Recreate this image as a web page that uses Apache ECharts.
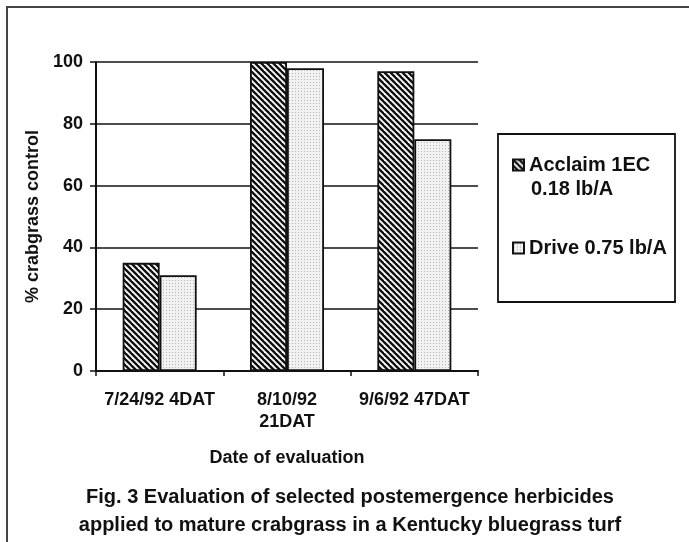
<!DOCTYPE html>
<html>
<head>
<meta charset="utf-8">
<title>Fig. 3 crabgrass control</title>
<script src="https://cdn.jsdelivr.net/npm/echarts@6/dist/echarts.min.js"></script>
<style>
  html, body { margin: 0; padding: 0; background: #fff; }
  #chart { width: 689px; height: 542px; }
</style>
</head>
<body>
<div id="chart"></div>
<script>
// data
const dates = ['7/24/92 4DAT', '8/10/92\n21DAT', '9/6/92 47DAT'];
const acclaim = [35, 100, 97];
const drive = [31, 98, 75];
const seriesNames = ['Acclaim 1EC', 'Drive 0.75 lb/A'];
const yTicks = [0, 20, 40, 60, 80, 100];

const FONT = '"Liberation Sans", Arial, sans-serif';
const INK = '#111';

// diagonal hatch for Acclaim
function hatchPattern() {
  const c = document.createElement('canvas');
  c.width = 6; c.height = 6;
  const ctx = c.getContext('2d');
  ctx.fillStyle = '#fff';
  ctx.fillRect(0, 0, 6, 6);
  ctx.strokeStyle = '#111';
  ctx.lineWidth = 2.4;
  [-6, 0, 6].forEach(function (o) {
    ctx.beginPath();
    ctx.moveTo(o - 1, -1);
    ctx.lineTo(o + 7, 7);
    ctx.stroke();
  });
  return c;
}

// light stipple for Drive
function dotPattern() {
  const c = document.createElement('canvas');
  c.width = 3; c.height = 3;
  const ctx = c.getContext('2d');
  ctx.fillStyle = '#f2f2f2';
  ctx.fillRect(0, 0, 3, 3);
  ctx.fillStyle = '#b4b4b4';
  ctx.fillRect(1, 1, 1, 1);
  return c;
}

const hatch = { image: hatchPattern(), repeat: 'repeat' };
const dots = { image: dotPattern(), repeat: 'repeat' };

const chart = echarts.init(document.getElementById('chart'), null, { renderer: 'canvas' });

const option = {
  backgroundColor: '#fff',
  animation: false,
  textStyle: { fontFamily: FONT },
  title: {
    text: 'Fig. 3 Evaluation of selected postemergence herbicides\napplied to mature crabgrass in a Kentucky bluegrass turf',
    left: 345,
    top: 478,
    textAlign: 'center',
    textStyle: { fontFamily: FONT, fontSize: 20, fontWeight: 'bold', color: INK, lineHeight: 28 }
  },
  grid: { left: 96, top: 62, right: 211, bottom: 171, containLabel: false },
  legend: [
    {
      data: [seriesNames[0]],
      left: 512,
      top: 131,
      padding: 0,
      icon: 'rect',
      itemWidth: 11,
      itemHeight: 11,
      itemGap: 0,
      selectedMode: false,
      formatter: function () { return '{s| }\n{a|Acclaim 1EC}\n{b|0.18 lb/A}'; },
      textStyle: {
        fontFamily: FONT, fontSize: 20, fontWeight: 'bold', color: INK,
        rich: {
          s: { fontSize: 20, lineHeight: 24 },
          a: { fontFamily: FONT, fontSize: 20, fontWeight: 'bold', color: INK, lineHeight: 24 },
          b: { fontFamily: FONT, fontSize: 20, fontWeight: 'bold', color: INK, lineHeight: 24, padding: [0, 0, 0, 2] }
        }
      }
    },
    {
      data: [seriesNames[1]],
      left: 512,
      top: 237,
      padding: 0,
      icon: 'rect',
      itemWidth: 11,
      itemHeight: 11,
      selectedMode: false,
      textStyle: { fontFamily: FONT, fontSize: 20, fontWeight: 'bold', color: INK, lineHeight: 22 }
    }
  ],
  xAxis: {
    type: 'category',
    data: dates,
    name: 'Date of evaluation',
    nameLocation: 'middle',
    nameGap: 78,
    nameTextStyle: { fontFamily: FONT, fontSize: 18, fontWeight: 'bold', color: INK },
    axisLine: { lineStyle: { color: INK, width: 2 } },
    axisTick: { show: true, length: 5, lineStyle: { color: INK, width: 1.5 } },
    axisLabel: {
      interval: 0,
      margin: 18,
      fontFamily: FONT, fontSize: 18, fontWeight: 'bold', color: INK, lineHeight: 22
    },
    splitLine: { show: false }
  },
  yAxis: {
    type: 'value',
    min: yTicks[0],
    max: yTicks[yTicks.length - 1],
    interval: yTicks[1] - yTicks[0],
    name: '% crabgrass control',
    nameLocation: 'middle',
    nameGap: 54,
    nameTextStyle: { fontFamily: FONT, fontSize: 18, fontWeight: 'bold', color: INK },
    axisLine: { show: true, lineStyle: { color: INK, width: 2 } },
    axisTick: { show: true, length: 6, lineStyle: { color: INK, width: 1.5 } },
    axisLabel: { margin: 13, fontFamily: FONT, fontSize: 18, fontWeight: 'bold', color: INK },
    splitLine: { show: true, lineStyle: { color: INK, width: 1.6 } }
  },
  series: [
    {
      name: seriesNames[0],
      type: 'bar',
      data: acclaim,
      barWidth: 37,
      barGap: '0%',
      itemStyle: { color: hatch, borderColor: INK, borderWidth: 1.8 }
    },
    {
      name: seriesNames[1],
      type: 'bar',
      data: drive,
      barWidth: 37,
      barGap: '0%',
      itemStyle: { color: dots, borderColor: INK, borderWidth: 1.8 }
    }
  ],
  graphic: [
    {
      // outer frame of the figure
      type: 'rect',
      silent: true,
      z: -1,
      shape: { x: 7, y: 7, width: 720, height: 580 },
      style: { fill: null, stroke: '#444', lineWidth: 2 }
    },
    {
      // legend box
      type: 'rect',
      silent: true,
      shape: { x: 498, y: 134, width: 177, height: 168 },
      style: { fill: null, stroke: INK, lineWidth: 1.8 }
    }
  ]
};

chart.setOption(option);
</script>
</body>
</html>
